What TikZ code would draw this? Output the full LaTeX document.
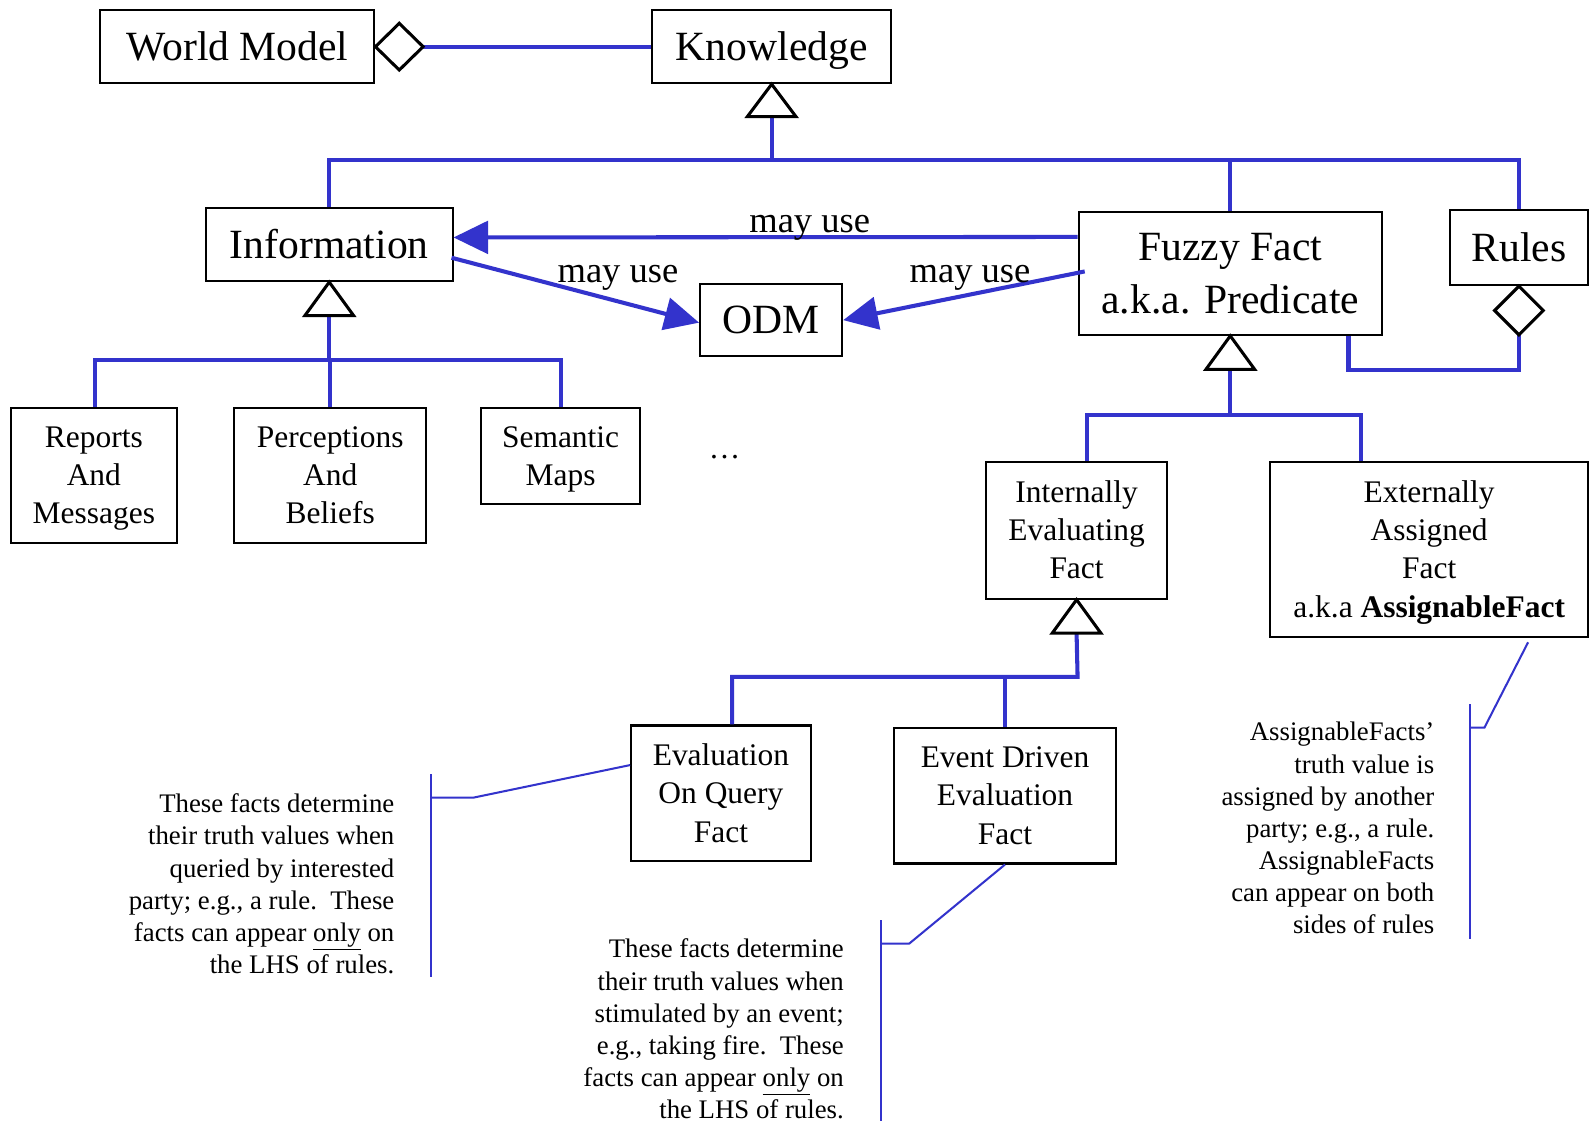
\documentclass[tikz,border=0pt]{standalone}
\usepackage{fontspec}
\setmainfont{Liberation Serif}
\usetikzlibrary{arrows.meta,calc}
\definecolor{lnblue}{RGB}{51,51,204}
\begin{document}
\begin{tikzpicture}[x=0.5pt,y=-0.5pt,
 box/.style={draw=black,line width=1pt,inner sep=0pt,align=center,fill=white},
 sz/.style 2 args={minimum width=#1*0.5pt,minimum height=#2*0.5pt},
 big/.style={font=\fontsize{20.5}{26}\selectfont,text height=13.6pt,text depth=0pt},
 bigtwo/.style={font=\fontsize{20.5}{26}\selectfont,text height=39.6pt,text depth=0pt},
 mid/.style={font=\fontsize{15.5}{18.8}\selectfont,text depth=0pt},
 mtwo/.style={mid,text height=29.1pt},
 mthree/.style={mid,text height=47.9pt},
 mfour/.style={mid,text height=66.7pt},
 lbl/.style={font=\fontsize{18}{22}\selectfont,inner sep=0pt},
 note/.style={font=\fontsize{13.2}{15.8}\selectfont,align=right,inner sep=0pt},
 conn/.style={draw=lnblue,line width=2pt},
 thinl/.style={draw=lnblue,line width=1pt},
 use/.style={conn,-{Triangle[length=17pt,width=16pt]}},
 tri/.style={draw=black,line width=1.5pt,fill=white,line join=miter},
]
\useasboundingbox[fill=white] (0,0) rectangle (1568,1105);

% boxes
\node[box,big,sz={270}{72}] (wm) at (234,46) {World Model};
\node[box,big,sz={235}{72}] (kn) at (760.5,46) {Knowledge};
\node[box,big,sz={243}{72}] (info) at (324.5,241) {Information};
\node[box,big,sz={140}{71}] (odm) at (760,315.5) {ODM};
\node[box,bigtwo,sz={299}{121}] (ff) at (1212.5,269.5) {Fuzzy Fact\\a.k.a. Predicate};
\node[box,big,sz={136}{74}] (rules) at (1497,244) {Rules};
\node[box,mthree,sz={163}{133}] (rep) at (92.5,468.5) {Reports\\And\\Messages};
\node[box,mthree,sz={189}{133}] (per) at (325.5,468.5) {Perceptions\\And\\Beliefs};
\node[box,mtwo,sz={157}{95}] (sem) at (552.5,449.5) {Semantic\\Maps};
\node[font=\fontsize{15.5}{18.8}\selectfont,inner sep=0pt] (dots) at (714,450) {\ldots};
\node[box,mthree,sz={178}{135}] (int) at (1061,522.5) {Internally\\Evaluating\\Fact};
\node[box,mfour,sz={313}{173}] (ext) at (1408.5,541.5) {Externally\\Assigned\\Fact\\a.k.a \textbf{AssignableFact}};
\node[box,mthree,sz={177}{134}] (evq) at (710.5,782) {Evaluation\\On Query\\Fact};
\node[box,mthree,sz={219}{134}] (evd) at (990.5,784) {Event Driven\\Evaluation\\Fact};

% triangle base coordinates
\coordinate (knb) at ($(kn.south)+(0,32)$);
\coordinate (infob) at ($(info.south)+(0,33)$);
\coordinate (ffb) at ($(ff.south)+(0,33)$);
\coordinate (intb) at ($(int.south)+(0,33)$);
\coordinate (rdb) at ($(rules.south)+(0,48)$);
\coordinate (wmd) at ($(wm.east)+(47,0)$);

% generalization buses
\coordinate (b1) at (760.5,158);
\draw[conn] (knb) -- (b1);
\draw[conn] (info.north) |- (b1) -| (ff.north);
\draw[conn] (b1) -| (rules.north);

\coordinate (b2) at (324.5,355);
\draw[conn] (infob) -- (b2);
\draw[conn] ($(rep.north)+(1.5,0)$) |- (b2) -| (sem.north);
\draw[conn] (per.north) -- (per.north |- b2);

\coordinate (b3) at (1212.5,409);
\draw[conn] (ffb) -- (b3);
\draw[conn] ($(int.north)+(10,0)$) |- (b3) -| ($(ext.north)+(-67,0)$);

\coordinate (b4) at (1062,667);
\draw[conn] (intb) -- (b4) -| ($(evq.north)+(11,0)$);
\draw[conn] (evd.north) -- (evd.north |- b4);

% aggregations
\draw[conn] (wmd) -- (kn.west);
\draw[conn] (rdb) -- ++(0,35) -| ($(ff.south east)+(-34,0)$);

% triangles and diamonds
\draw[tri] (kn.south) -- ++(-24,32) -- ++(48,0) -- cycle;
\draw[tri] (info.south) -- ++(-24,33) -- ++(48,0) -- cycle;
\draw[tri] (ff.south) -- ++(-24,33) -- ++(48,0) -- cycle;
\draw[tri] (int.south) -- ++(-24,33) -- ++(48,0) -- cycle;
\draw[tri] (wm.east) -- ++(23.5,-23) -- ++(23.5,23) -- ++(-23.5,23) -- cycle;
\draw[tri] (rules.south) -- ++(24,24) -- ++(-24,24) -- ++(-24,-24) -- cycle;

% may use arrows
\draw[use] ($(ff.west)+(0,-36)$) -- ($(info.east)+(0,-7)$);
\draw[use] ($(info.east)+(-2,13)$) -- ($(odm.west)+(0,2.5)$);
\draw[use] ($(ff.west)+(7,-2)$) -- (odm.east);
\node[lbl] (mu1) at (798,225) {may use};
\node[lbl] (mu2) at (609,274) {may use};
\node[lbl] (mu3) at (956,274) {may use};

% notes
\node[note,anchor=east] (n1) at (389,871) {These facts determine\\their truth values when\\queried by interested\\party; e.g., a rule.\ \ These\\facts can appear \underline{only} on\\the LHS of rules.};
\node[note,anchor=east] (n2) at (832,1014) {These facts determine\\their truth values when\\stimulated by an event;\\e.g., taking fire.\ \ These\\facts can appear \underline{only} on\\the LHS of rules.};
\node[note,anchor=east] (n3) at (1414,816) {AssignableFacts’\\truth value is\\assigned by another\\party; e.g., a rule.\\AssignableFacts\\can appear on both\\sides of rules\ };

% note brackets
\coordinate (k1t) at (425,763);
\coordinate (k1b) at (425,963);
\coordinate (k1m) at (425,786);
\draw[thinl] (k1t) -- (k1b);
\draw[thinl] (k1m) -- ++(42,0) -- ($(evq.west)+(0,-28)$);
\coordinate (k2t) at (868,907);
\coordinate (k2b) at (868,1105);
\coordinate (k2m) at (868,930);
\draw[thinl] (k2t) -- (k2b);
\draw[thinl] (k2m) -- ++(28,0) -- (evd.south);
\coordinate (k3t) at (1449,694);
\coordinate (k3b) at (1449,925);
\coordinate (k3m) at (1449,717);
\draw[thinl] (k3t) -- (k3b);
\draw[thinl] (k3m) -- ++(14,0) -- ($(ext.south)+(97.5,4)$);
\end{tikzpicture}
\end{document}
